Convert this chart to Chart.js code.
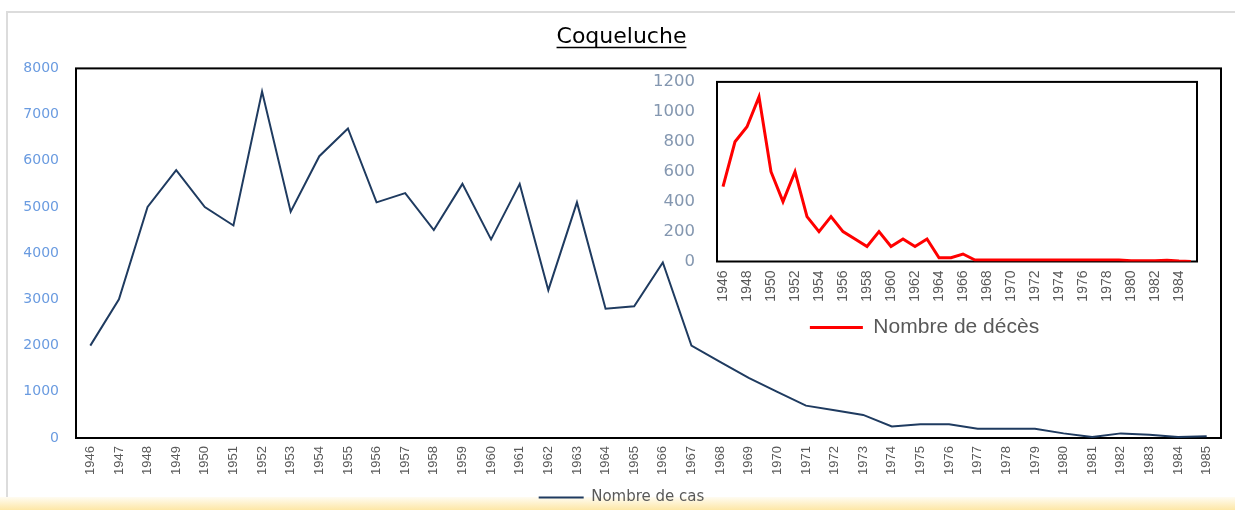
<!DOCTYPE html>
<html>
<head>
<meta charset="utf-8">
<script src="https://cdn.jsdelivr.net/npm/chart.js@4"></script>
<style>
  html, body { margin: 0; padding: 0; background: #fff; overflow: hidden; }
  #wrap { position: relative; width: 1235px; height: 510px; overflow: hidden; }
  #cadre { position: absolute; left: 6px; top: 11px; right: -4px; bottom: 10px;
           border-top: 2px solid #dcdcdc; border-left: 2px solid #dcdcdc; }
  #bande { position: absolute; left: 0; right: 0; top: 497px; height: 13px;
           background: linear-gradient(#fffcf2, #fde7a6); }
  #principal { position: absolute; left: 0; top: 0; }
  #encart { position: absolute; left: 620px; top: 50px; }
</style>
</head>
<body>
<div id="wrap">
  <div id="cadre"></div>
  <div id="bande"></div>
  <canvas id="principal" width="1235" height="515"></canvas>
  <canvas id="encart" width="600" height="298"></canvas>
</div>
<script>
// Années
const annees = ['1946', '1947', '1948', '1949', '1950', '1951', '1952', '1953', '1954', '1955',
  '1956', '1957', '1958', '1959', '1960', '1961', '1962', '1963', '1964', '1965',
  '1966', '1967', '1968', '1969', '1970', '1971', '1972', '1973', '1974', '1975',
  '1976', '1977', '1978', '1979', '1980', '1981', '1982', '1983', '1984', '1985'];

// Nombre de cas (graphique principal)
const nombreCas = [2000, 3000, 5000, 5800, 5000, 4600, 7500, 4900, 6100, 6700,
  5100, 5300, 4500, 5500, 4300, 5500, 3200, 5100, 2800, 2850,
  3800, 2000, 1650, 1300, 1000, 700, 600, 500, 250, 300,
  300, 200, 200, 200, 100, 20, 100, 70, 20, 40];

// Nombre de décès (encart)
const nombreDeces = [500, 800, 900, 1100, 600, 400, 600, 300, 200, 300,
  200, 150, 100, 200, 100, 150, 100, 150, 25, 25,
  50, 10, 10, 10, 10, 10, 10, 10, 10, 10,
  10, 10, 10, 10, 5, 5, 5, 8, 3, 0];

// Étiquettes affichées sur l'axe de l'encart (une année sur deux)
const etiquettesEncart = ['1946', '1948', '1950', '1952', '1954', '1956', '1958', '1960', '1962', '1964',
  '1966', '1968', '1970', '1972', '1974', '1976', '1978', '1980', '1982', '1984'];

// Cadre noir autour de la zone de tracé
const cadreZone = {
  id: 'cadreZone',
  beforeDatasetsDraw(chart) {
    const { ctx, chartArea: a } = chart;
    ctx.save();
    ctx.strokeStyle = '#000';
    ctx.lineWidth = 2;
    ctx.strokeRect(a.left, a.top, a.right - a.left, a.bottom - a.top);
    ctx.restore();
  }
};

// Titre souligné
const souligne = {
  id: 'souligne',
  afterDraw(chart) {
    const t = chart.titleBlock;
    const ctx = chart.ctx;
    ctx.save();
    ctx.font = '22px "DejaVu Sans"';
    const w = ctx.measureText(chart.options.plugins.title.text).width;
    const cx = (t.left + t.right) / 2;
    const y = t.bottom - 18 - 3;
    ctx.strokeStyle = '#000';
    ctx.lineWidth = 1.5;
    ctx.beginPath();
    ctx.moveTo(cx - w / 2, y);
    ctx.lineTo(cx + w / 2, y);
    ctx.stroke();
    ctx.restore();
  }
};

const sansGrille = { display: false, drawTicks: false };

// Graphique principal
new Chart(document.getElementById('principal'), {
  type: 'line',
  data: {
    labels: annees,
    datasets: [{
      label: 'Nombre de cas',
      data: nombreCas,
      borderColor: '#1F3B60',
      backgroundColor: '#1F3B60',
      borderWidth: 2,
      pointRadius: 0,
      tension: 0
    }]
  },
  options: {
    responsive: false,
    animation: false,
    layout: { padding: { left: 22, right: 14, top: 0, bottom: 0 } },
    scales: {
      x: {
        offset: true,
        grid: sansGrille,
        border: { display: false },
        ticks: {
          autoSkip: false, maxRotation: 90, minRotation: 90, padding: 8,
          color: '#595959', font: { family: 'Liberation Sans', size: 13 }
        },
        afterFit: s => { s.height = 46; }
      },
      y: {
        min: 0, max: 8000,
        grid: sansGrille,
        border: { display: false },
        ticks: {
          stepSize: 1000, padding: 17, format: { useGrouping: false },
          color: '#6A9BE0', font: { family: 'DejaVu Sans', size: 14 }
        },
        afterFit: s => { s.width = 54; }
      }
    },
    plugins: {
      title: {
        display: true,
        text: 'Coqueluche',
        color: '#000',
        font: { family: 'DejaVu Sans', size: 22, weight: 'normal' },
        padding: { top: 24, bottom: 18 }
      },
      legend: {
        position: 'bottom',
        labels: {
          usePointStyle: true, pointStyle: 'line', pointStyleWidth: 45, padding: 6,
          color: '#595959', font: { family: 'DejaVu Sans', size: 15 }
        }
      },
      tooltip: { enabled: false }
    }
  },
  plugins: [cadreZone, souligne]
});

// Encart : nombre de décès
new Chart(document.getElementById('encart'), {
  type: 'line',
  data: {
    labels: annees,
    datasets: [{
      label: 'Nombre de décès',
      data: nombreDeces,
      borderColor: '#FF0000',
      backgroundColor: '#FF0000',
      borderWidth: 3,
      pointRadius: 0,
      tension: 0
    }]
  },
  options: {
    responsive: false,
    animation: false,
    layout: { padding: { left: 32, right: 23, top: 0, bottom: 0 } },
    scales: {
      x: {
        offset: true,
        grid: sansGrille,
        border: { display: false },
        ticks: {
          autoSkip: false, maxRotation: 90, minRotation: 90, padding: 9,
          color: '#595959', font: { family: 'Liberation Sans', size: 14 },
          callback: function (v) {
            const l = this.getLabelForValue(v);
            return etiquettesEncart.includes(l) ? l : '';
          }
        },
        afterFit: s => { s.height = 51; }
      },
      y: {
        min: 0, max: 1200,
        grid: sansGrille,
        border: { display: false },
        ticks: {
          stepSize: 200, padding: 22, format: { useGrouping: false },
          color: '#8497B0', font: { family: 'DejaVu Sans', size: 16.5 }
        },
        afterFit: s => { s.width = 65; }
      }
    },
    plugins: {
      legend: {
        position: 'bottom',
        labels: {
          usePointStyle: true, pointStyle: 'line', pointStyleWidth: 53, padding: 4.5,
          color: '#595959', font: { family: 'Liberation Sans', size: 21 }
        }
      },
      tooltip: { enabled: false }
    }
  },
  plugins: [cadreZone]
});
</script>
</body>
</html>
